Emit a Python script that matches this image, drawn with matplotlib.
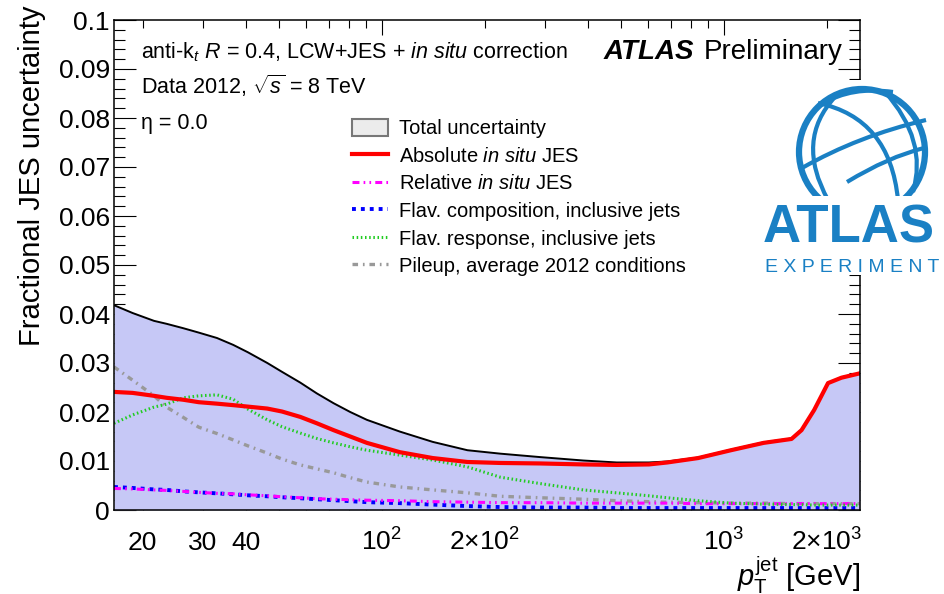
import numpy as np
import matplotlib.pyplot as plt
from matplotlib.patches import Patch, Circle, Rectangle, PathPatch
from matplotlib.lines import Line2D
from matplotlib.path import Path

plt.rcParams['font.family'] = ['Liberation Sans', 'DejaVu Sans']
plt.rcParams['mathtext.fontset'] = 'custom'
plt.rcParams['mathtext.rm'] = 'Liberation Sans'
plt.rcParams['mathtext.it'] = 'Liberation Sans:italic'
plt.rcParams['mathtext.bf'] = 'Liberation Sans:bold'
plt.rcParams['lines.scale_dashes'] = False

# jet pT grid [GeV] and the uncertainty components
pt = [16.5, 18.7, 21.6, 23.5, 26.3, 29.2, 33, 36.8, 40.6, 46.3, 51.1, 57.8,
      64.6, 72.3, 80.9, 90.5, 113, 141, 178, 222, 290, 388, 486, 604, 683,
      841, 1049, 1307, 1577, 1687, 1836, 2016, 2207, 2500]

total = [0.0418, 0.0402, 0.0386, 0.0380, 0.0371, 0.0362, 0.0351, 0.0337,
         0.0322, 0.0300, 0.0282, 0.0260, 0.0238, 0.0218, 0.0200, 0.0184,
         0.0160, 0.0139, 0.0122, 0.0115, 0.0108, 0.0101, 0.0097, 0.0097,
         0.0099, 0.0107, 0.0123, 0.0138, 0.0146, 0.0164, 0.0205, 0.0259,
         0.0271, 0.0279]

absolute = [0.0241, 0.0239, 0.0233, 0.0229, 0.0225, 0.0220, 0.0217, 0.0214,
            0.0211, 0.0207, 0.0201, 0.0190, 0.0177, 0.0163, 0.0150, 0.0137,
            0.0118, 0.0106, 0.0098, 0.0096, 0.0095, 0.0093, 0.0092, 0.0093,
            0.0097, 0.0106, 0.0122, 0.0137, 0.0145, 0.0163, 0.0204, 0.0259,
            0.0270, 0.0279]

relative = [0.0044, 0.0043, 0.0041, 0.0040, 0.0038, 0.0036, 0.0034, 0.0033,
            0.0031, 0.0029, 0.0027, 0.0025, 0.0023, 0.0022, 0.0021, 0.0020,
            0.0019, 0.0017, 0.0016, 0.0015, 0.0015, 0.0014, 0.0014, 0.0014,
            0.0014, 0.0013, 0.0013, 0.0013, 0.0013, 0.0013, 0.0013, 0.0013,
            0.0013, 0.0013]

flav_comp = [0.0047, 0.0045, 0.0042, 0.0041, 0.0038, 0.0036, 0.0034, 0.0032,
             0.0030, 0.0028, 0.0026, 0.0024, 0.0022, 0.0020, 0.0018, 0.0016,
             0.0014, 0.0011, 0.0008, 0.0006, 0.0005, 0.0005, 0.0004, 0.0004,
             0.0004, 0.0004, 0.0004, 0.0004, 0.0004, 0.0004, 0.0004, 0.0004,
             0.0004, 0.0004]

flav_resp = [0.0177, 0.0194, 0.0210, 0.0216, 0.0229, 0.0233, 0.0235, 0.0226,
             0.0206, 0.0184, 0.0170, 0.0157, 0.0146, 0.0137, 0.0129, 0.0122,
             0.0112, 0.0102, 0.0088, 0.0067, 0.0054, 0.0041, 0.0035, 0.0029,
             0.0025, 0.0019, 0.0014, 0.0012, 0.0011, 0.0011, 0.0010, 0.0010,
             0.0010, 0.0010]

pileup = [0.0292, 0.0265, 0.0233, 0.0210, 0.0189, 0.0169, 0.0156, 0.0143,
          0.0131, 0.0116, 0.0104, 0.0092, 0.0084, 0.0076, 0.0066, 0.0057,
          0.0047, 0.0041, 0.0035, 0.0028, 0.0025, 0.0022, 0.0019, 0.0017,
          0.0016, 0.0015, 0.0014, 0.0014, 0.0013, 0.0013, 0.0013, 0.0013,
          0.0013, 0.0013]

labels = ["Total uncertainty", r"Absolute $in\ situ$ JES", r"Relative $in\ situ$ JES",
          "Flav. composition, inclusive jets", "Flav. response, inclusive jets",
          "Pileup, average 2012 conditions"]

W, H = 945, 594
fig = plt.figure(figsize=(W / 100, H / 100), dpi=100)
ax = fig.add_axes([114 / W, 1 - 510 / H, (860 - 114) / W, (510 - 20) / H])

fill_col = "#c6c8f6"
st_abs = dict(color="#ff0000", lw=3.0)
st_rel = dict(color="#ff00ff", lw=2.2, dashes=[5, 3, 1.2, 3, 1.2, 3])
st_comp = dict(color="#0000ff", lw=2.8, dashes=[2.8, 3.6])
st_resp = dict(color="#22cc22", lw=2.2, dashes=[1.1, 1.9])
st_pu = dict(color="#999999", lw=2.4, dashes=[4, 3.5, 1.2, 3.5])

ax.fill_between(pt, 0, total, color=fill_col, lw=0, zorder=1)
ax.plot(pt, total, color="black", lw=1.4, zorder=2)
ax.plot(pt, pileup, zorder=2, **st_pu)
ax.plot(pt, flav_comp, zorder=2, **st_comp)
ax.plot(pt, relative, zorder=2, **st_rel)
ax.plot(pt, flav_resp, zorder=2, **st_resp)
ax.plot(pt, absolute, zorder=2, **st_abs)

ax.set_xscale("log")
ax.set_xlim(16.5, 2500)
ax.set_ylim(0, 0.1)
ax.set_axisbelow(True)

yt = np.arange(0, 0.1001, 0.01)
ax.set_yticks(yt, ["0"] + [f"{v:.2f}" for v in yt[1:-1]] + ["0.1"])
ax.set_yticks(np.arange(0, 0.1001, 0.002), minor=True)

ax.set_xticks([100, 1000], [r"$10^{2}$", r"$10^{3}$"])
minor_pos = [20, 30, 40, 50, 60, 70, 80, 90, 200, 300, 400, 500, 600, 700,
             800, 900, 2000]
minor_lab = ["20", "30", "40", "", "", "", "", "", r"2$\times$10$^{2}$", "", "",
             "", "", "", "", "", r"2$\times$10$^{3}$"]
ax.set_xticks(minor_pos, minor_lab, minor=True)

ax.tick_params(which="both", direction="in", top=True, right=True,
               width=0.8, labelsize=19)
ax.tick_params(axis="y", which="major", length=16, pad=3)
ax.tick_params(axis="y", which="minor", length=8)
ax.tick_params(axis="x", which="major", length=11, pad=29)
ax.tick_params(axis="x", which="minor", length=5.5, pad=29)
for lbl in ax.get_xticklabels(which="both"):
    lbl.set_verticalalignment("baseline")
for s in ax.spines.values():
    s.set_linewidth(1.1)

fig.text(32 / W, 1 - 5 / H, "Fractional JES uncertainty", rotation=90,
         ha="center", va="top", fontsize=21)
fig.text(860 / W, 1 - 575 / H, r"$p_{\mathrm{T}}^{\mathrm{jet}}$ [GeV]",
         ha="right", va="center", fontsize=21)

fs = 15.5
fig.text(141 / W, 1 - 52 / H,
         r"anti-k$_{t}$ $R$ = 0.4, LCW+JES + $in\ situ$ correction",
         ha="left", va="center", fontsize=fs)
fig.text(141 / W, 1 - 86 / H, r"Data 2012, $\sqrt{s}$ = 8 TeV",
         ha="left", va="center", fontsize=fs)
fig.text(141 / W, 1 - 123 / H, "η = 0.0", ha="left", va="center", fontsize=fs)
fig.text(604 / W, 1 - 52 / H, "ATLAS", fontweight="bold", style="italic",
         ha="left", va="center", fontsize=20)
fig.text(704 / W, 1 - 52 / H, "Preliminary", ha="left", va="center",
         fontsize=20)

handles = [Patch(facecolor="#ececec", edgecolor="#777777", lw=1.5),
           Line2D([], [], **st_abs), Line2D([], [], **st_rel),
           Line2D([], [], **st_comp), Line2D([], [], **st_resp),
           Line2D([], [], **st_pu)]
fig.legend(handles, labels, loc="upper left",
           bbox_to_anchor=(352 / W, 1 - 119 / H), frameon=False,
           fontsize=14.5, borderpad=0, borderaxespad=0, handlelength=1.8,
           handleheight=0.9, handletextpad=0.55, labelspacing=0.41)

# ATLAS Experiment logo
blue = "#1a80c4"
lax = fig.add_axes([760 / W, 1 - 275 / H, 185 / W, 195 / H], zorder=5)
lax.set_xlim(760, 945)
lax.set_ylim(275, 80)
lax.set_xticks([])
lax.set_yticks([])
for s in lax.spines.values():
    s.set_visible(False)
lax.add_patch(Circle((862, 152), 63, fill=False, ec=blue, lw=4.5, zorder=1))
curves = [[(802, 168), (858, 136), (926, 120)],
          [(847, 182), (888, 157), (924, 148)],
          [(835, 97), (795, 140), (828, 200)],
          [(818, 103), (890, 118), (898, 200)],
          [(822, 104), (852, 86), (893, 92)],
          [(885, 92), (928, 140), (913, 192)]]
for c in curves:
    lax.add_patch(PathPatch(Path(c, [Path.MOVETO, Path.CURVE3, Path.CURVE3]),
                            fill=False, ec=blue, lw=3, zorder=1))
lax.add_patch(Rectangle((760, 196), 185, 80, fc="white", ec="none", zorder=2))
lax.text(763, 242, "ATLAS", fontsize=38, fontweight="bold", color=blue,
         ha="left", va="baseline", zorder=3)
lax.text(765, 272, "E X P E R I M E N T", fontsize=14, color=blue,
         ha="left", va="baseline", zorder=3)

fig.savefig("out.png", dpi=100)
